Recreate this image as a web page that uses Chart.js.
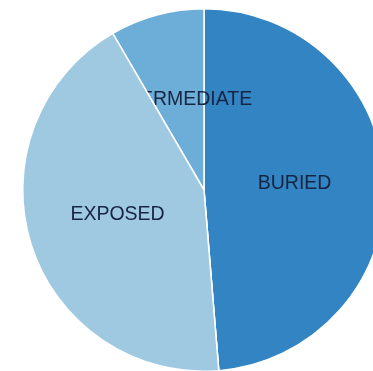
<!DOCTYPE html>
<html>
<head>
<meta charset="utf-8">
<script src="https://cdn.jsdelivr.net/npm/chart.js@4"></script>
<style>
    html, body { margin: 0; padding: 0; background: #ffffff; overflow: hidden; }
    #wrap { position: relative; width: 408px; height: 381px; }
</style>
</head>
<body>
<div id="wrap"><canvas id="grafikPie"></canvas></div>
<script>
const categories = ['BURIED', 'EXPOSED', 'INTERMEDIATE'];
const shares = [48.7, 42.9, 8.4];
const sliceColors = ['#3384c2', '#9fc9e1', '#6caed7'];

// labels sit at half radius; EXPOSED slice is painted over the INTERMEDIATE text
const sliceLabels = {
    id: 'sliceLabels',
    afterDatasetsDraw(chart) {
        const ctx = chart.ctx;
        const meta = chart.getDatasetMeta(0);

        function drawLabel(i) {
            const arc = meta.data[i];
            const mid = (arc.startAngle + arc.endAngle) / 2;
            const r = arc.outerRadius / 2;
            ctx.save();
            ctx.font = '19.5px "Liberation Sans", Arial, sans-serif';
            ctx.fillStyle = '#172544';
            ctx.textAlign = 'center';
            ctx.textBaseline = 'middle';
            ctx.fillText(categories[i], arc.x + Math.cos(mid) * r, arc.y + Math.sin(mid) * r - 3);
            ctx.restore();
        }

        drawLabel(0);
        drawLabel(2);
        meta.data[1].draw(ctx);
        drawLabel(1);
    }
};

const grafikPie = document.getElementById('grafikPie').getContext('2d');
new Chart(grafikPie, {
    type: 'pie',
    data: {
        labels: categories,
        datasets: [{
            data: shares,
            backgroundColor: sliceColors,
            borderColor: '#ffffff',
            borderWidth: 1.5
        }]
    },
    options: {
        responsive: true,
        maintainAspectRatio: false,
        animation: false,
        layout: { padding: { left: 8, right: 8, top: 8, bottom: 9 } },
        plugins: {
            legend: { display: false },
            tooltip: { enabled: false }
        }
    },
    plugins: [sliceLabels]
});
</script>
</body>
</html>
